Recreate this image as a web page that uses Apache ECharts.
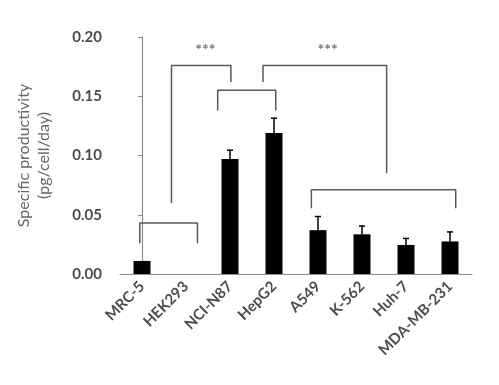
<!DOCTYPE html>
<html>
<head>
<meta charset="utf-8">
<script src="https://cdn.jsdelivr.net/npm/echarts@6/dist/echarts.min.js"></script>
<style>
html, body { margin: 0; padding: 0; background: #fff; }
#chart { width: 499px; height: 385px; }
</style>
</head>
<body>
<div id="chart"></div>
<script>
var cells = ["MRC-5", "HEK293", "NCI-N87", "HepG2", "A549", "K-562", "Huh-7", "MDA-MB-231"];
var productivity = [0.011, 0, 0.097, 0.119, 0.037, 0.0335, 0.0245, 0.0275];
var sd = [0, 0, 0.0075, 0.0125, 0.0115, 0.007, 0.0055, 0.008];

// bracket outlines, in [category position, value]
var bracketLow = [[-0.05, 0.026], [-0.05, 0.043], [1.26, 0.043], [1.26, 0.026]];
var bracketLeft = [[0.67, 0.060], [0.67, 0.176], [2.02, 0.176], [2.02, 0.162]];
var bracketMid = [[1.72, 0.138], [1.72, 0.155], [3.04, 0.155], [3.04, 0.138]];
var bracketRight = [[2.75, 0.162], [2.75, 0.176], [5.56, 0.176], [5.56, 0.085]];
var bracketGroup = [[3.85, 0.0555], [3.85, 0.071], [7.13, 0.071], [7.13, 0.0555]];
var stars = [[1.44, 0.189], [4.22, 0.189]];

var font = "Lato, 'Open Sans', sans-serif";
var chart = echarts.init(document.getElementById("chart"));

function bracket(points) {
    return {type: "line", xAxisIndex: 1, data: points, symbol: "none", silent: true,
        lineStyle: {color: "#595959", width: 1.5}, z: 3};
}

chart.setOption({
    animation: false,
    grid: {left: 120, right: 27, top: 37, bottom: 111},
    xAxis: [{
        type: "category", data: cells,
        axisLine: {lineStyle: {color: "#8c8c8c", width: 1.2}},
        axisTick: {length: 4, lineStyle: {color: "#8c8c8c"}},
        axisLabel: {rotate: 45, interval: 0, margin: 10, color: "#4d4d4d", fontWeight: "bold", fontSize: 15, fontFamily: font}
    }, {
        type: "value", min: -0.5, max: 7.5, show: false
    }],
    yAxis: {
        type: "value", min: 0, max: 0.2, interval: 0.05,
        name: "Specific productivity\n(pg/cell/day)", nameLocation: "middle", nameGap: 66,
        nameTextStyle: {color: "#666", fontSize: 16, lineHeight: 20, fontFamily: font},
        axisLine: {show: true, lineStyle: {color: "#8c8c8c", width: 1.2}},
        axisTick: {show: true, length: 4, lineStyle: {color: "#8c8c8c"}},
        splitLine: {show: false},
        axisLabel: {margin: 18, color: "#4d4d4d", fontWeight: "bold", fontSize: 15, fontFamily: font,
            formatter: function(v) { return v.toFixed(2) }}
    },
    series: [
        {type: "bar", data: productivity, barWidth: 17, itemStyle: {color: "#000"}, z: 2},
        {type: "custom", data: productivity.map(function(v, i) { return [i, v, sd[i]] }), z: 2,
            renderItem: function(params, api) {
                var i = api.value(0), v = api.value(1), e = api.value(2);
                if (!e) return;
                var lo = api.coord([i, v]), hi = api.coord([i, v + e]);
                var st = {stroke: "#000", lineWidth: 1.5};
                return {type: "group", children: [
                    {type: "line", shape: {x1: lo[0], y1: lo[1], x2: hi[0], y2: hi[1]}, style: st},
                    {type: "line", shape: {x1: hi[0] - 3, y1: hi[1], x2: hi[0] + 3, y2: hi[1]}, style: st}
                ]};
            }},
        bracket(bracketLow), bracket(bracketLeft), bracket(bracketMid),
        bracket(bracketRight), bracket(bracketGroup),
        {type: "scatter", xAxisIndex: 1, data: stars, symbolSize: 0, silent: true,
            label: {show: true, position: "inside", formatter: "***", color: "#555",
                fontWeight: "bold", fontSize: 16, fontFamily: font}}
    ]
});
</script>
</body>
</html>
